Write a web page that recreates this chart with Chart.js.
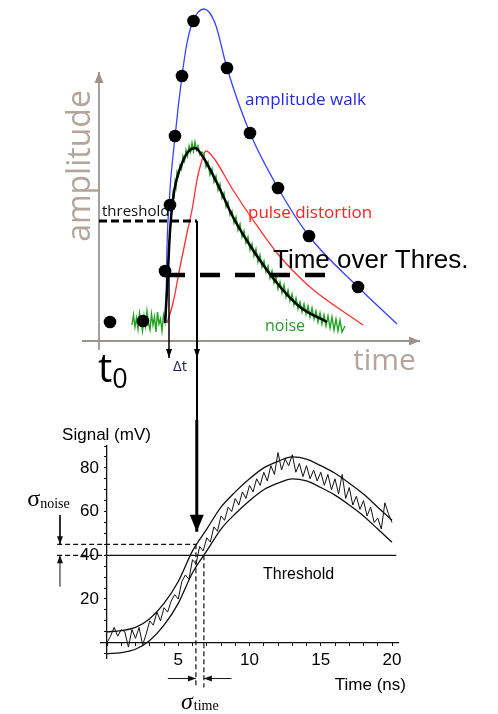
<!DOCTYPE html>
<html>
<head>
<meta charset="utf-8">
<script src="https://cdn.jsdelivr.net/npm/chart.js@4.4.1/dist/chart.umd.min.js"></script>
<style>
  html, body { margin: 0; padding: 0; background: #fff; }
  #wrap { position: relative; width: 498px; height: 714px; overflow: hidden; }
  canvas { position: absolute; left: 0; }
  #sketch { top: 0; z-index: 1; }
  #scope { top: 420px; z-index: 2; }
</style>
</head>
<body>
<div id="wrap">
  <canvas id="sketch" width="498" height="430"></canvas>
  <canvas id="scope" width="498" height="294"></canvas>
</div>
<script>
'use strict';

// top sketch, arbitrary units (0,0 is where the two axes cross)
const walkCurve = [[6.7, 1.8], [6.75, 6.9], [7.0, 13.6], [7.6, 20.4], [8.3, 26.5], [8.8, 29.8], [9.4, 32.0],
    [10.5, 33.2], [11.6, 31.8], [12.8, 27.3], [15.1, 20.8], [17.9, 15.3], [21.0, 10.5], [25.9, 5.4], [29.8, 1.7]];
const walkDots = [[1.1, 1.9], [4.4, 2.0], [6.6, 7.0], [7.1, 13.6], [7.6, 20.5], [8.3, 26.5], [9.45, 32.0],
    [12.8, 27.3], [15.1, 20.8], [17.9, 15.3], [21.0, 10.5], [25.9, 5.4]];
const distortedCurve = [[6.8, 1.8], [7.4, 3.8], [8.1, 7.4], [8.8, 10.8], [9.3, 13.1], [9.8, 16.1], [10.1, 17.4],
    [10.7, 19.0], [11.4, 18.4], [13.4, 15.1], [15.4, 12.1], [17.8, 8.8], [21.1, 5.4], [26.4, 1.6]];
const cleanPulse = [[6.6, 1.8], [6.8, 5.0], [7.1, 11.0], [7.4, 14.2], [7.8, 16.3], [8.4, 18.0], [8.9, 18.9],
    [9.6, 19.3], [10.4, 18.4], [11.8, 15.8], [13.4, 12.4], [15.4, 9.1], [17.8, 5.8], [20.1, 3.4], [22.8, 1.9]];
const noisyPulse = [
    [3.3, 1.6], [3.45, 2.6], [3.6, 1.4], [3.75, 2.3], [3.9, 1.2], [4.05, 2.8], [4.2, 1.9], [4.35, 1.0],
    [4.5, 2.5], [4.65, 1.5], [4.8, 3.0], [4.95, 1.8], [5.1, 1.1], [5.25, 2.7], [5.4, 1.6], [5.55, 2.4],
    [5.7, 0.9], [5.85, 2.9], [6.0, 1.7], [6.15, 2.2], [6.3, 1.0], [6.45, 2.6], [6.6, 1.9],
    [6.7, 3.6], [6.8, 5.6], [6.9, 6.8], [7.0, 9.7], [7.1, 10.4], [7.2, 12.6], [7.3, 12.9], [7.4, 14.8],
    [7.5, 14.5], [7.6, 15.9], [7.7, 15.4], [7.8, 16.9], [7.95, 16.5], [8.1, 17.6], [8.25, 17.2], [8.4, 18.5],
    [8.55, 18.0], [8.7, 19.1], [8.85, 18.5], [9.0, 19.5], [9.15, 18.9], [9.3, 19.8], [9.45, 19.0], [9.6, 19.9],
    [9.75, 19.1], [9.9, 19.5], [10.1, 18.6], [10.3, 18.9], [10.5, 18.7], [10.7, 17.4], [10.9, 17.9], [11.1, 16.6],
    [11.3, 17.2], [11.5, 15.9], [11.7, 16.5], [11.9, 15.1], [12.1, 15.7], [12.3, 14.3], [12.5, 14.8], [12.7, 13.4],
    [12.9, 13.9], [13.1, 12.6], [13.3, 13.0], [13.5, 11.8], [13.7, 12.4], [13.9, 11.1], [14.1, 11.7], [14.3, 10.4],
    [14.5, 11.0], [14.7, 9.8], [14.9, 10.4], [15.1, 9.1], [15.3, 9.7], [15.5, 8.5], [15.7, 9.2], [15.9, 7.9],
    [16.1, 8.6], [16.3, 7.4], [16.5, 8.0], [16.7, 6.9], [16.9, 7.5], [17.1, 6.3], [17.3, 7.0], [17.5, 5.8],
    [17.7, 6.4], [17.9, 5.2], [18.1, 5.9], [18.3, 4.8], [18.5, 5.6], [18.7, 4.4], [18.9, 5.1], [19.1, 4.0],
    [19.3, 4.7], [19.5, 3.6], [19.7, 4.3], [19.9, 3.2], [20.1, 3.9], [20.3, 2.9], [20.5, 3.7], [20.7, 2.7],
    [20.9, 3.5], [21.1, 2.4], [21.3, 3.3], [21.5, 2.2], [21.7, 3.0], [21.9, 1.9], [22.1, 2.8], [22.3, 1.7],
    [22.5, 2.6], [22.7, 1.5], [22.9, 2.5], [23.1, 1.3], [23.3, 2.4], [23.5, 1.1], [23.7, 2.2], [23.9, 1.0],
    [24.1, 2.1], [24.3, 0.9], [24.6, 1.5]];
const thresholdLevel = 12.0;
const totLevel = 6.6;      // time-over-threshold level
const crossTime = 9.8;     // slow pulse crosses the threshold here
const dtTime = 7.0;
const arrowFoot = -1.7;

// bottom scope trace
const bandTimes = [0, 1, 2, 3, 4, 5, 6, 7, 8, 9, 10, 11, 12, 13, 14, 15, 16, 17, 18, 19, 20];
const upperBandMv = [5, 5.5, 7, 11, 18, 28, 42, 52, 62, 69, 75, 80, 83, 85, 84, 81, 77.5, 73, 68, 62, 56];
const lowerBandMv = [-5, -4.5, -3, 1, 8, 18, 32, 42, 52, 59, 65, 70, 73, 75, 74, 71, 67.5, 63, 58, 52, 46];
const noisyTrace = [
    [0, 0], [0.25, 3], [0.5, 7], [0.75, 3], [1, 6], [1.25, 5], [1.5, -2], [1.75, 6], [2, 2], [2.25, 7],
    [2.5, -1], [2.75, 4], [3, 10], [3.25, 8], [3.5, 14], [3.75, 10], [4, 16], [4.25, 14], [4.5, 19], [4.75, 22],
    [5, 20], [5.25, 28], [5.5, 31], [5.75, 29], [6, 38], [6.25, 36], [6.5, 44], [6.75, 42], [7, 48], [7.25, 46],
    [7.5, 53], [7.75, 51], [8, 58], [8.25, 56], [8.5, 62], [8.75, 60], [9, 66], [9.25, 63], [9.5, 69], [9.75, 66],
    [10, 72], [10.25, 69], [10.5, 75], [10.75, 72], [11, 78], [11.25, 74], [11.5, 81], [11.75, 77], [12, 87],
    [12.25, 79], [12.5, 84], [12.75, 81], [13, 86], [13.25, 78], [13.5, 82], [13.75, 76], [14, 81], [14.25, 75],
    [14.5, 79], [14.75, 74], [15, 78], [15.25, 72], [15.5, 77], [15.75, 70], [16, 75], [16.25, 68], [16.5, 77],
    [16.75, 66], [17, 71], [17.25, 63], [17.5, 67], [17.75, 61], [18, 65], [18.25, 58], [18.5, 62], [18.75, 55],
    [19, 57], [19.25, 52], [19.5, 64], [19.75, 59], [20, 55]];
const thresholdMv = 40;
const noiseTopMv = 45;
const crossEarly = 6.24;
const crossLate = 6.8;
const xLabelsNs = [5, 10, 15, 20];
const yLabelsMv = [20, 40, 60, 80];

const toPts = arr => arr.map(([x, y]) => ({x, y}));
const pair = (xs, ys) => xs.map((x, i) => [x, ys[i]]);

function line(pts, color, width, extra) {
    return Object.assign({
        data: toPts(pts), borderColor: color, backgroundColor: color, borderWidth: width,
        pointRadius: 0, fill: false, tension: 0, clip: false, order: 1
    }, extra || {});
}

// arrowheads at the last point of any dataset that carries `arrow: [length, halfWidth]`
const arrowHeads = {
    id: 'arrowHeads',
    afterDatasetsDraw(chart) {
        const ctx = chart.ctx;
        chart.data.datasets.forEach((ds, i) => {
            if (!ds.arrow) return;
            const pts = chart.getDatasetMeta(i).data;
            const tip = pts[pts.length - 1], prev = pts[pts.length - 2];
            const ang = Math.atan2(tip.y - prev.y, tip.x - prev.x);
            ctx.save();
            ctx.translate(tip.x, tip.y);
            ctx.rotate(ang);
            ctx.beginPath();
            ctx.moveTo(0, 0);
            ctx.lineTo(-ds.arrow[0], -ds.arrow[1]);
            ctx.lineTo(-ds.arrow[0], ds.arrow[1]);
            ctx.closePath();
            ctx.fillStyle = ds.borderColor;
            ctx.fill();
            ctx.restore();
        });
    }
};

function textLayer(items) {
    return {
        id: 'textLayer',
        afterDraw(chart) {
            const {ctx, scales} = chart;
            items.forEach(t => {
                ctx.save();
                ctx.font = t.font;
                ctx.fillStyle = t.color || '#000';
                ctx.textBaseline = 'middle';
                ctx.textAlign = t.align || 'left';
                ctx.translate(scales.x.getPixelForValue(t.x), scales.y.getPixelForValue(t.y));
                if (t.rotate) ctx.rotate(t.rotate * Math.PI / 180);
                ctx.fillText(t.text, 0, 0);
                if (t.sub) {
                    const w = ctx.measureText(t.text).width;
                    ctx.font = t.subFont;
                    ctx.fillText(t.sub, w + (t.subDx || 0), t.subDy || 0);
                }
                ctx.restore();
            });
        }
    };
}

const gray = '#9c948e';
const sketchLabels = [
    {text: 'amplitude walk', x: 14.6, y: 24.1, font: '17px "Open Sans"', color: '#2626e6'},
    {text: 'threshold', x: 0.3, y: 12.9, font: '15px "Open Sans"', color: '#111'},
    {text: 'pulse distortion', x: 14.9, y: 12.8, font: '17px "Open Sans"', color: '#f22'},
    {text: 'Time over Thres.', x: 17.4, y: 8.0, font: '26px "Liberation Sans"', color: '#000'},
    {text: 'noise', x: 16.6, y: 1.5, font: '16px "Open Sans"', color: '#2a9a2a'},
    {text: 'time', x: 25.4, y: -2.0, font: '30px "Open Sans"', color: '#b3a59d'},
    {text: 'amplitude', x: -1.8, y: 17.5, font: '32px "Open Sans"', color: '#b3a59d', align: 'center', rotate: -90},
    {text: 't', sub: '0', x: -0.1, y: -3.0, font: '40px "Open Sans"', subFont: '27px "Open Sans"', subDy: 9},
    {text: 'Δt', x: 7.4, y: -2.6, font: '15px "Open Sans"', color: '#1c2452'}
];

// top canvas is 430 tall and slips 10px under the scope canvas, so the drop line runs on unbroken
new Chart(document.getElementById('sketch'), {
    type: 'line',
    data: {
        datasets: [
            line(walkDots, '#000', 0, {showLine: false, pointRadius: 6.3, pointBackgroundColor: '#000', pointBorderWidth: 0, order: 0}),
            line([[6.6, totLevel], [23.4, totLevel]], '#000', 4.5, {borderDash: [20, 15]}),
            line([[0, thresholdLevel], [crossTime, thresholdLevel]], '#000', 3, {borderDash: [8, 4]}),
            line([[crossTime, thresholdLevel], [crossTime, -9.5]], '#000', 2),
            line([[crossTime, thresholdLevel], [crossTime, arrowFoot]], '#000', 2, {arrow: [9, 3]}),
            line([[dtTime, totLevel], [dtTime, arrowFoot]], '#000', 1.5, {arrow: [9, 3]}),
            line(cleanPulse, '#000', 2.5, {cubicInterpolationMode: 'monotone', order: 2}),
            line(noisyPulse, '#22a322', 1.4, {order: 3}),
            line(distortedCurve, '#ff3030', 1.3, {cubicInterpolationMode: 'monotone', order: 4}),
            line(walkCurve, '#3344ff', 1.3, {cubicInterpolationMode: 'monotone', order: 4}),
            line([[0, -0.9], [0, 26.9]], gray, 1.8, {arrow: [11, 4.5], order: 5}),
            line([[-1.7, 0], [32.1, 0]], gray, 1.8, {arrow: [11, 4.5], order: 5})
        ]
    },
    options: {
        responsive: false,
        animation: false,
        devicePixelRatio: 1,
        layout: {padding: 0, autoPadding: false},
        plugins: {legend: {display: false}, tooltip: {enabled: false}},
        scales: {
            x: {type: 'linear', display: false, min: -9.9, max: 39.9},
            y: {type: 'linear', display: false, min: -8.9, max: 34.1}
        }
    },
    plugins: [arrowHeads, textLayer(sketchLabels)]
});

const scopeFont = {family: '"Liberation Sans", Arial, sans-serif', size: 17};
const scopeLabels = [
    {text: 'Signal (mV)', x: -3.15, y: 94.7, font: '17px "Liberation Sans"'},
    {text: 'Time (ns)', x: 20.98, y: -19.7, font: '17px "Liberation Sans"', align: 'right'},
    {text: 'Threshold', x: 10.95, y: 31.3, font: '16px "Liberation Sans"'},
    {text: 'σ', sub: 'noise', x: -5.6, y: 65.4, font: '24px "Liberation Serif"', subFont: '14px "Liberation Serif"', subDy: 5},
    {text: 'σ', sub: 'time', x: 5.19, y: -27.4, font: 'italic 24px "Liberation Serif"', subFont: '14px "Liberation Serif"', subDx: 1, subDy: 4}
];

new Chart(document.getElementById('scope'), {
    type: 'line',
    data: {
        datasets: [
            line(noisyTrace, '#111', 1),
            line(pair(bandTimes, upperBandMv), '#111', 1.3, {cubicInterpolationMode: 'monotone'}),
            line(pair(bandTimes, lowerBandMv), '#111', 1.3, {cubicInterpolationMode: 'monotone'}),
            line([[-0.5, 0], [20.5, 0]], '#111', 1.3),
            line([[0, thresholdMv], [20.3, thresholdMv]], '#111', 1.2),
            line([[-3.5, thresholdMv], [0, thresholdMv]], '#111', 1.2, {borderDash: [5, 3]}),
            line([[-3.5, noiseTopMv], [6.3, noiseTopMv]], '#111', 1.2, {borderDash: [5, 3]}),
            line([[crossEarly, noiseTopMv], [crossEarly, -20.5]], '#111', 1.2, {borderDash: [5, 3]}),
            line([[crossLate, thresholdMv], [crossLate, -20.5]], '#111', 1.2, {borderDash: [5, 3]}),
            line([[-3.3, 58.4], [-3.3, noiseTopMv]], '#111', 1, {arrow: [8, 3]}),
            line([[-3.3, 25.6], [-3.3, thresholdMv]], '#111', 1, {arrow: [8, 3]}),
            line([[4.27, -16.4], [crossEarly, -16.4]], '#111', 1, {arrow: [8, 3]}),
            line([[8.74, -16.4], [crossLate, -16.4]], '#111', 1, {arrow: [8, 3]}),
            line([[6.3, 104], [6.3, 50.8]], '#000', 3, {arrow: [17, 7]})
        ]
    },
    options: {
        responsive: false,
        animation: false,
        devicePixelRatio: 1,
        layout: {padding: {top: 26, bottom: 56, left: 0, right: 106}, autoPadding: false},
        plugins: {legend: {display: false}, tooltip: {enabled: false}},
        scales: {
            x: {
                type: 'linear', min: 0, max: 20, position: {y: 0},
                afterFit: s => { s.height = 0; },
                border: {display: false},
                grid: {drawOnChartArea: false, drawTicks: true, tickLength: 3, color: '#111'},
                ticks: {
                    stepSize: 1, autoSkip: false, maxRotation: 0, padding: 4, color: '#000', font: scopeFont,
                    callback: v => xLabelsNs.includes(v) ? v : ''
                }
            },
            y: {
                type: 'linear', min: -7, max: 90,
                afterFit: s => { s.width = 107; },
                border: {display: true, color: '#111', width: 1.3},
                grid: {drawOnChartArea: false, drawTicks: true, tickLength: 3, color: '#111'},
                ticks: {
                    stepSize: 5, autoSkip: false, includeBounds: false, padding: 5, color: '#000', font: scopeFont,
                    callback: v => yLabelsMv.includes(v) ? v : ''
                }
            }
        }
    },
    plugins: [arrowHeads, textLayer(scopeLabels)]
});
</script>
</body>
</html>
